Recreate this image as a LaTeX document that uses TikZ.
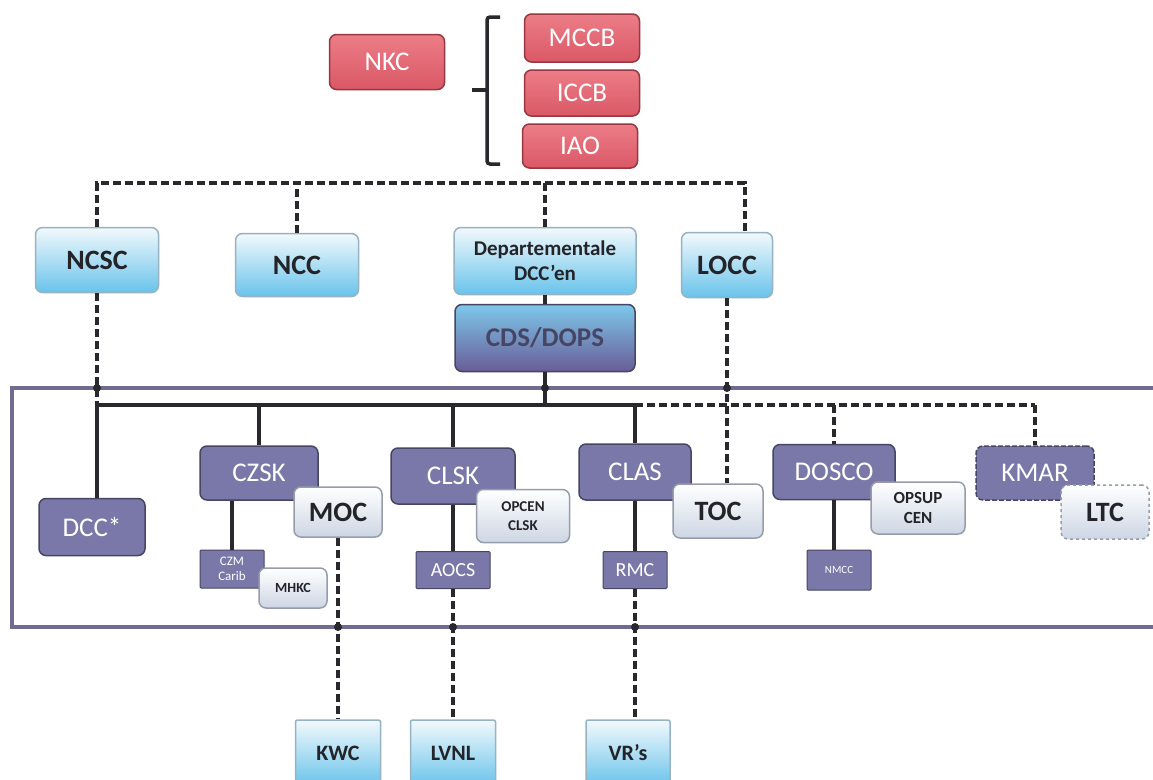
\documentclass[tikz,border=0pt]{standalone}
\usepackage{fontspec}
\setmainfont{Carlito}
\definecolor{redB}{RGB}{150,55,65}
\definecolor{redT}{RGB}{236,125,135}
\definecolor{redD}{RGB}{218,88,102}
\definecolor{blueB}{RGB}{150,178,195}
\definecolor{blueT}{RGB}{242,249,252}
\definecolor{blueD}{RGB}{105,195,235}
\definecolor{purB}{RGB}{70,70,100}
\definecolor{purF}{RGB}{122,120,168}
\definecolor{ltB}{RGB}{150,156,172}
\definecolor{ltD}{RGB}{205,214,228}
\definecolor{txtD}{RGB}{35,35,40}
\definecolor{lineC}{RGB}{40,40,45}
\definecolor{frameC}{RGB}{112,108,145}
\definecolor{cdsT}{RGB}{125,200,235}
\definecolor{cdsD}{RGB}{105,92,150}
\begin{document}
\begin{tikzpicture}[x=1pt,y=-1pt,
  box/.style={rounded corners=7pt, line width=1.5pt, inner sep=2pt, align=center},
  redbox/.style={box, draw=redB, top color=redT, bottom color=redD, text=white, font=\fontsize{27}{28}\selectfont},
  bluebox/.style={box, draw=blueB, top color=blueT, bottom color=blueD, text=txtD, font=\bfseries\fontsize{28}{28}\selectfont},
  purbox/.style={box, draw=purB, fill=purF, text=white, font=\fontsize{27}{28}\selectfont},
  smallpur/.style={purbox, rounded corners=1pt, line width=1pt},
  ltbox/.style={box, draw=ltB, top color=white, bottom color=ltD, text=txtD, font=\bfseries\fontsize{28}{28}\selectfont},
  conn/.style={line width=3.5pt, draw=lineC},
  dconn/.style={conn, dash pattern=on 8pt off 4pt},
  jdot/.style={circle, fill=lineC, inner sep=0pt, minimum size=8pt}]
\clip (0,0) rectangle (1153,779);
\fill[white] (0,0) rectangle (1153,779);
% frame
\draw[frameC, line width=3.5pt] (12,388) rectangle (1170,627);
% bracket
\draw[conn, rounded corners=3pt] (500,17) -- (487,17) -- (487,164) -- (500,164);
\draw[conn] (487,90) -- (472,90);
% top red nodes
\node[redbox, minimum width=115pt, minimum height=55pt] (NKC) at (387,62) {NKC};
\node[redbox, minimum width=115pt, minimum height=48pt] (MCCB) at (582,38) {MCCB};
\node[redbox, minimum width=115pt, minimum height=46pt] (ICCB) at (582,93) {ICCB};
\node[redbox, minimum width=115pt, minimum height=44pt] (IAO) at (580,146) {IAO};
% blue row
\node[bluebox, minimum width=123pt, minimum height=65pt] (NCSC) at (97,260) {NCSC};
\node[bluebox, minimum width=123pt, minimum height=63pt] (NCC) at (297,265) {NCC};
\node[bluebox, minimum width=182pt, minimum height=67pt, font=\bfseries\fontsize{21}{25}\selectfont] (Dept) at (545,261) {Departementale\\DCC’en};
\node[bluebox, minimum width=91pt, minimum height=65pt] (LOCC) at (727,265) {LOCC};
\node[box, draw=purB, top color=cdsT, bottom color=cdsD, text=purB, font=\bfseries\fontsize{27}{28}\selectfont, minimum width=180pt, minimum height=67pt] (CDS) at (545,338) {CDS/DOPS};
% inner row
\node[purbox, minimum width=106pt, minimum height=57pt] (DCC) at (92,527) {DCC*};
\node[purbox, minimum width=118pt, minimum height=54pt] (CZSK) at (259,473) {CZSK};
\node[smallpur, minimum width=64pt, minimum height=38pt, font=\fontsize{13}{15}\selectfont] (CZM) at (232,569) {CZM\\Carib};
\node[ltbox, minimum width=68pt, minimum height=40pt, font=\bfseries\fontsize{14}{16}\selectfont] (MHKC) at (293,588) {MHKC};
\node[ltbox, minimum width=88pt, minimum height=50pt] (MOC) at (338,512) {MOC};
\node[purbox, minimum width=124pt, minimum height=56pt] (CLSK) at (453,476) {CLSK};
\node[ltbox, minimum width=93pt, minimum height=53pt, font=\bfseries\fontsize{15}{19}\selectfont] (OPCEN) at (523,516) {OPCEN\\CLSK};
\node[smallpur, minimum width=74pt, minimum height=37pt, font=\fontsize{20}{22}\selectfont] (AOCS) at (453,570) {AOCS};
\node[purbox, minimum width=112pt, minimum height=56pt] (CLAS) at (635,472) {CLAS};
\node[ltbox, minimum width=90pt, minimum height=54pt] (TOC) at (718,511) {TOC};
\node[smallpur, minimum width=64pt, minimum height=37pt, font=\fontsize{20}{22}\selectfont] (RMC) at (635,570) {RMC};
\node[purbox, minimum width=122pt, minimum height=55pt] (DOSCO) at (834,472) {DOSCO};
\node[ltbox, minimum width=94pt, minimum height=52pt, font=\bfseries\fontsize{17}{20}\selectfont] (OPSUP) at (918,508) {OPSUP\\CEN};
\node[smallpur, minimum width=64pt, minimum height=40pt, font=\fontsize{11}{13}\selectfont] (NMCC) at (839,570) {NMCC};
\node[purbox, minimum width=118pt, minimum height=54pt, dash pattern=on 5pt off 2pt] (KMAR) at (1035,473) {KMAR};
\node[ltbox, minimum width=88pt, minimum height=54pt, dash pattern=on 3pt off 3pt] (LTC) at (1105,512) {LTC};
% bottom row
\node[bluebox, rounded corners=2pt, minimum width=85pt, minimum height=66pt, font=\bfseries\fontsize{22}{24}\selectfont] (KWC) at (338,753) {KWC};
\node[bluebox, rounded corners=2pt, minimum width=85pt, minimum height=66pt, font=\bfseries\fontsize{22}{24}\selectfont] (LVNL) at (453,753) {LVNL};
\node[bluebox, rounded corners=2pt, minimum width=84pt, minimum height=66pt, font=\bfseries\fontsize{22}{24}\selectfont] (VRs) at (628,753) {VR’s};
% coordinates
\coordinate (t1) at (97,183);
\coordinate (t4) at (745,183);
\coordinate (bL) at (97,405);
\coordinate (bS) at (635,405);
\coordinate (bR) at (1035,405);
% top dashed bus
\draw[dconn] (NCSC.north) -- (t1) -- (t4) -- (t4 |- LOCC.north);
\draw[dconn] (NCC.north) -- (NCC.north |- t1);
\draw[dconn] (Dept.north) -- (Dept.north |- t1);
\draw[conn] (Dept.south) -- (CDS.north);
\draw[conn] (CDS.south) -- (CDS.south |- bL);
% lower bus
\draw[dconn] (NCSC.south) -- (bL);
\draw[conn] (bL) -- (bL |- DCC.north);
\draw[conn] (bL) -- (bS);
\draw[dconn] (bS) -- (bR);
\draw[conn] (CZSK.north |- bL) -- (CZSK.north);
\draw[conn] (CLSK.north |- bL) -- (CLSK.north);
\draw[conn] (bS) -- (CLAS.north);
\draw[dconn] (DOSCO.north |- bL) -- (DOSCO.north);
\draw[dconn] (bR) -- (KMAR.north);
\draw[dconn] (LOCC.south) -- (LOCC.south |- TOC.north);
% sub connections
\draw[conn] (CZM.north |- CZSK.south) -- (CZM.north);
\draw[conn] (CLSK.south) -- (AOCS.north);
\draw[conn] (CLAS.south) -- (RMC.north);
\draw[conn] (DOSCO.south) -- (DOSCO.south |- NMCC.north);
\draw[dconn] (MOC.south) -- (KWC.north);
\draw[dconn] (AOCS.south) -- (LVNL.north);
\draw[dconn] (RMC.south) -- (RMC.south |- VRs.north);
% junction dots
\node[jdot] (d1) at (97,388) {};
\node[jdot] (d2) at (545,388) {};
\node[jdot] (d3) at (LOCC.south |- d1) {};
\node[jdot] (d4) at (338,627) {};
\node[jdot] (d5) at (453,627) {};
\node[jdot] (d6) at (635,627) {};
\end{tikzpicture}
\end{document}
